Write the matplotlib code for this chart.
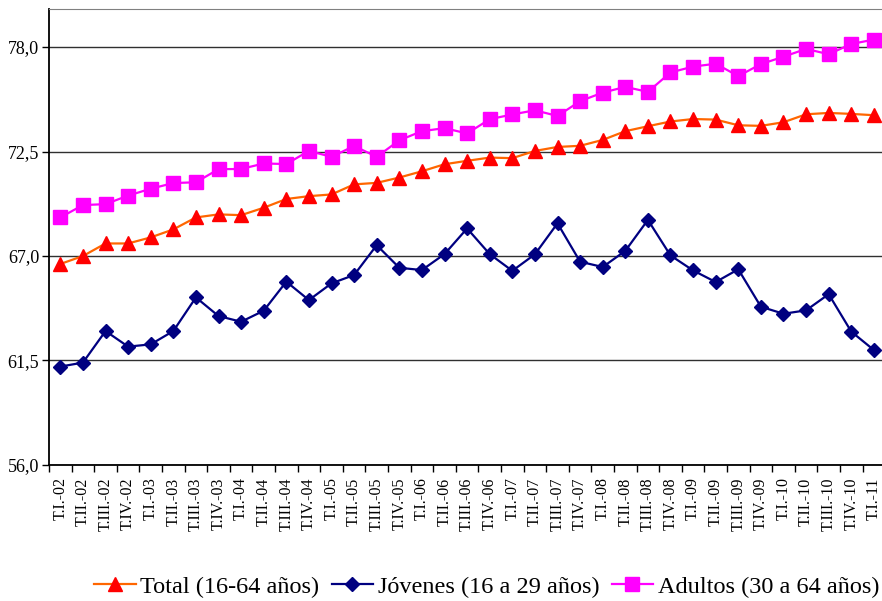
import matplotlib
matplotlib.use("Agg")
import matplotlib.pyplot as plt
from matplotlib.ticker import FixedLocator

plt.rcParams['font.family'] = ['Liberation Serif', 'DejaVu Serif']

# Trimestres T.I-02 ... T.I-11
quarters = []
for yr in range(2, 11):
    for q in ['I', 'II', 'III', 'IV']:
        quarters.append('T.%s.-%02d' % (q, yr))
quarters.append('T.I.-11')

total = [66.58, 67.00, 67.66, 67.66, 67.98, 68.40, 69.03, 69.19, 69.15, 69.54,
         70.00, 70.15, 70.24, 70.77, 70.85, 71.13, 71.46, 71.83, 72.01, 72.18,
         72.15, 72.53, 72.74, 72.80, 73.11, 73.57, 73.83, 74.08, 74.21, 74.18,
         73.88, 73.85, 74.04, 74.46, 74.53, 74.48, 74.41]

jovenes = [61.18, 61.39, 63.05, 62.23, 62.35, 63.05, 64.82, 63.84, 63.54, 64.12,
           65.65, 64.68, 65.56, 66.00, 67.57, 66.38, 66.26, 67.10, 68.45, 67.10,
           66.22, 67.09, 68.72, 66.70, 66.42, 67.27, 68.90, 67.03, 66.24, 65.63,
           66.30, 64.33, 63.96, 64.14, 64.99, 63.02, 62.05]

adultos = [69.03, 69.68, 69.73, 70.18, 70.54, 70.84, 70.88, 71.57, 71.58, 71.87,
           71.84, 72.53, 72.22, 72.79, 72.22, 73.09, 73.57, 73.73, 73.45, 74.20,
           74.45, 74.67, 74.37, 75.15, 75.60, 75.90, 75.64, 76.66, 76.97, 77.12,
           76.47, 77.10, 77.49, 77.90, 77.62, 78.16, 78.39]

yticks = [56.0, 61.5, 67.0, 72.5, 78.0]

fig = plt.figure(figsize=(8.82, 6.01), dpi=100)
ax = fig.add_axes([0.0556, 0.2263, 0.948, 0.7587])

x = list(range(len(quarters)))
ax.plot(x, total, color='#FF6600', lw=1.6, marker='^', ms=10,
        mfc='#FF0000', mec='#FF0000', label='Total (16-64 años)')
ax.plot(x, jovenes, color='#000080', lw=1.6, marker='D', ms=7,
        mfc='#000080', mec='#000080', label='Jóvenes (16 a 29 años)')
ax.plot(x, adultos, color='#FF00FF', lw=1.6, marker='s', ms=9.5,
        mfc='#FF00FF', mec='#FF00FF', label='Adultos (30 a 64 años)')

ax.set_xlim(-0.5, len(quarters) - 0.5)
ax.set_ylim(56.0, 80.0)
ax.set_yticks(yticks)
ax.set_yticklabels([('%.1f' % v).replace('.', ',') for v in yticks], fontsize=13)
ax.yaxis.grid(True, color='#303030', lw=1)
ax.set_axisbelow(True)
ax.tick_params(axis='y', length=5, width=1, direction='out', pad=2)

ax.set_xticks(x)
ax.set_xticklabels(quarters, rotation=90, fontsize=11.5, va='top', ha='center')
ax.xaxis.set_minor_locator(FixedLocator([i - 0.5 for i in range(len(quarters) + 1)]))
ax.tick_params(axis='x', which='major', length=0, pad=9)
ax.tick_params(axis='x', which='minor', length=5, width=1, direction='out')

for s in ['left', 'bottom']:
    ax.spines[s].set_color('black')
    ax.spines[s].set_linewidth(1.3)
ax.spines['top'].set_color('#808080')
ax.spines['right'].set_visible(False)

fig.legend(loc='center', bbox_to_anchor=(0.552, 0.024), ncol=3, frameon=False,
           fontsize=17.5, handlelength=1.7, handletextpad=0.2, columnspacing=0.5,
           borderaxespad=0, borderpad=0)

fig.savefig('out.png', dpi=100)
